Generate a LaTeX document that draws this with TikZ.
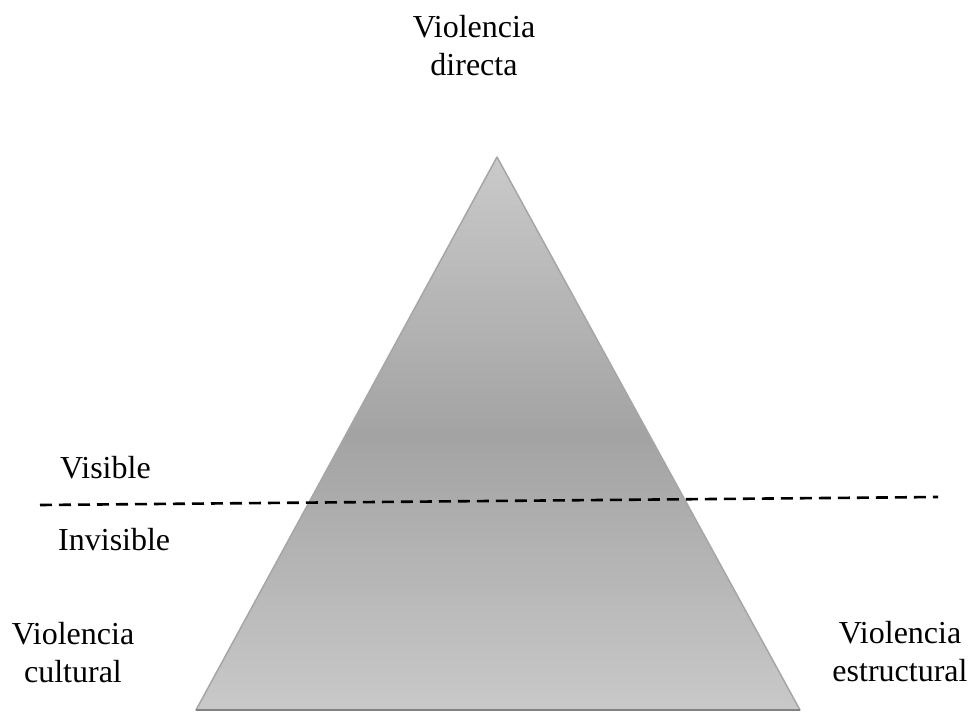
\documentclass[tikz,border=0pt]{standalone}
\usepackage{fontspec}
\setmainfont{Liberation Serif}
\usepackage{tikz}
\usetikzlibrary{positioning,calc}

\definecolor{pyrlight}{HTML}{C9C9C9}
\definecolor{pyrdark}{HTML}{A3A3A3}
\definecolor{pyredge}{HTML}{A6A6A6}

\begin{document}
\begin{tikzpicture}[
  x=1pt, y=-1pt,
  lbl/.style={align=center, inner sep=0pt, font=\fontsize{32}{38}\selectfont},
  pyr/.style={draw=pyredge, line width=1.5pt, line join=round},
  limite/.style={line width=2.6pt, dash pattern=on 12pt off 7pt}
]
  \useasboundingbox (0,0) rectangle (969,712);

  % triangulo
  \coordinate (apex) at (497,157);
  \coordinate (bl) at (196,710);
  \coordinate (br) at (800,710);
  \begin{scope}
    \clip (apex) -- (br) -- (bl) -- cycle;
    % degradado claro - oscuro - claro
    \foreach \i in {0,...,69} {
      \pgfmathsetmacro{\pct}{100*(1-abs(\i-34.5)/34.5)}
      \fill[pyrdark!\pct!pyrlight] (190,157+\i*8) rectangle (810,157+\i*8+8.6);
    }
  \end{scope}
  \draw[pyr] (apex) -- (br) -- (bl) -- cycle;
  \draw[pyrdark!80!black, line width=1.5pt] (bl) -- (br);

  % vertices
  \node[lbl] (directa) at (474,45.5) {Violencia\\directa};
  \node[lbl] (cultural) at (73,653) {Violencia\\cultural};
  \node[lbl] (estructural) at (900,652) {Violencia\\estructural};

  % linea visible / invisible
  \coordinate (lim1) at (40,505);
  \coordinate (lim2) at (938,497);
  \draw[limite] (lim1) -- (lim2);
  \node[lbl, anchor=base west] (visible) at (60,478) {Visible};
  \node[lbl, anchor=base west] (invisible) at (58,550) {Invisible};
\end{tikzpicture}
\end{document}
